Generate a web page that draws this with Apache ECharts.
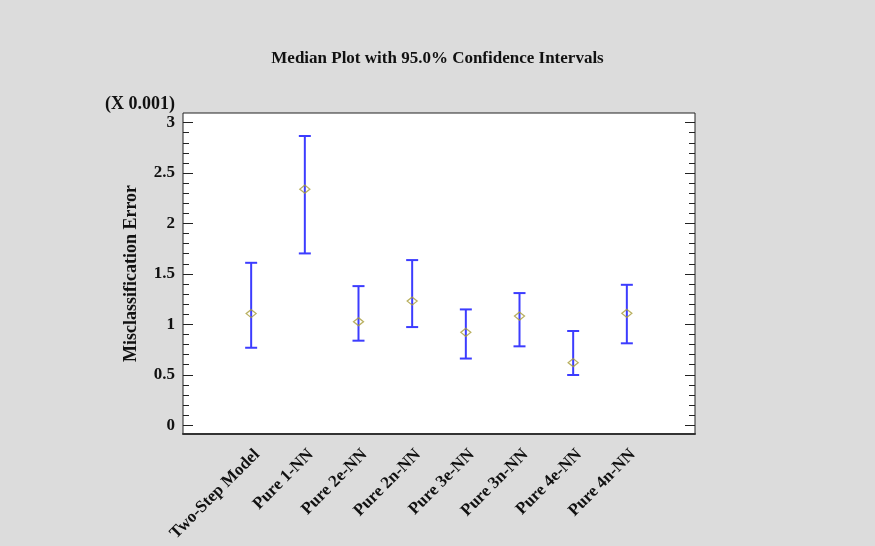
<!DOCTYPE html>
<html>
<head>
<meta charset="utf-8">
<script src="https://cdn.jsdelivr.net/npm/echarts@6/dist/echarts.min.js"></script>
<style>
  html, body { margin: 0; padding: 0; background: #dcdcdc; }
  #chart { width: 875px; height: 546px; }
</style>
</head>
<body>
<div id="chart"></div>
<script>
// values in units of 0.001 (axis shows "(X 0.001)")
const categories = ['Two-Step Model', 'Pure 1-NN', 'Pure 2e-NN', 'Pure 2n-NN', 'Pure 3e-NN', 'Pure 3n-NN', 'Pure 4e-NN', 'Pure 4n-NN']
const medians = [1.107, 2.34, 1.026, 1.231, 0.921, 1.082, 0.62, 1.109]
const lowers = [0.768, 1.703, 0.838, 0.973, 0.661, 0.782, 0.498, 0.812]
const uppers = [1.61, 2.867, 1.379, 1.637, 1.148, 1.31, 0.934, 1.392]
const majorTicks = [0, 0.5, 1, 1.5, 2, 2.5, 3]
const minorTicks = [0.1, 0.2, 0.3, 0.4, 0.6, 0.7, 0.8, 0.9, 1.1, 1.2, 1.3, 1.4, 1.6, 1.7, 1.8, 1.9, 2.1, 2.2, 2.3, 2.4, 2.6, 2.7, 2.8, 2.9]

const Y_MIN = -0.087
const Y_MAX = 3.095
const X_MIN = -1.27
const X_MAX = 8.27
const font = 'Liberation Serif'

const chart = echarts.init(document.getElementById('chart'))

const yAxisBase = {
  type: 'value',
  min: Y_MIN,
  max: Y_MAX,
  axisLine: {show: false, onZero: false},
  splitLine: {show: false},
}

chart.setOption({
  backgroundColor: '#dcdcdc',
  animation: false,
  title: [
    {
      text: 'Median Plot with 95.0% Confidence Intervals',
      left: 'center',
      top: 50,
      padding: 0,
      textStyle: {fontFamily: font, fontWeight: 'bold', fontSize: 17, color: '#111'}
    },
    {
      text: '(X 0.001)',
      left: 105,
      top: 95,
      padding: 0,
      textStyle: {fontFamily: font, fontWeight: 'bold', fontSize: 18, color: '#111'}
    }
  ],
  grid: {
    left: 183,
    right: 180,
    top: 113,
    bottom: 112,
    show: true,
    backgroundColor: '#fff',
    borderColor: '#222',
    borderWidth: 1
  },
  xAxis: {
    type: 'value',
    min: X_MIN,
    max: X_MAX,
    axisLine: {show: true, onZero: false, lineStyle: {color: '#333', width: 2}},
    axisTick: {show: false},
    splitLine: {show: false},
    axisLabel: {
      customValues: categories.map((c, i) => i),
      formatter: v => categories[v],
      rotate: 45,
      margin: 12,
      verticalAlign: 'top',
      fontFamily: font,
      fontWeight: 'bold',
      fontSize: 17,
      color: '#111'
    }
  },
  yAxis: [
    {
      ...yAxisBase,
      position: 'left',
      name: 'Misclassification Error',
      nameLocation: 'middle',
      nameGap: 43,
      nameTextStyle: {fontFamily: font, fontWeight: 'bold', fontSize: 18, color: '#111'},
      axisTick: {show: true, inside: true, length: 10, customValues: majorTicks, lineStyle: {color: '#222'}},
      axisLabel: {customValues: majorTicks, margin: 8, fontFamily: font, fontWeight: 'bold', fontSize: 17, color: '#111'}
    },
    {
      ...yAxisBase,
      position: 'left',
      axisTick: {show: true, inside: true, length: 6, customValues: minorTicks, lineStyle: {color: '#222'}},
      axisLabel: {show: false}
    },
    {
      ...yAxisBase,
      position: 'right',
      axisTick: {show: true, inside: true, length: 10, customValues: majorTicks, lineStyle: {color: '#222'}},
      axisLabel: {show: false}
    },
    {
      ...yAxisBase,
      position: 'right',
      axisTick: {show: true, inside: true, length: 6, customValues: minorTicks, lineStyle: {color: '#222'}},
      axisLabel: {show: false}
    }
  ],
  series: [
    {
      type: 'custom',
      data: categories.map((c, i) => [i, lowers[i], uppers[i]]),
      renderItem: (params, api) => {
        const lo = api.coord([api.value(0), api.value(1)])
        const hi = api.coord([api.value(0), api.value(2)])
        const w = 6
        const style = {stroke: '#3c3cff', lineWidth: 2}
        return {
          type: 'group',
          children: [
            {type: 'line', shape: {x1: lo[0], y1: lo[1], x2: hi[0], y2: hi[1]}, style},
            {type: 'line', shape: {x1: lo[0] - w, y1: lo[1], x2: lo[0] + w, y2: lo[1]}, style},
            {type: 'line', shape: {x1: hi[0] - w, y1: hi[1], x2: hi[0] + w, y2: hi[1]}, style}
          ]
        }
      },
      z: 2
    },
    {
      type: 'scatter',
      data: categories.map((c, i) => [i, medians[i]]),
      symbol: 'diamond',
      symbolSize: [10, 8],
      itemStyle: {color: 'transparent', borderColor: '#a89c38', borderWidth: 1.3},
      z: 3
    }
  ]
})
</script>
</body>
</html>
